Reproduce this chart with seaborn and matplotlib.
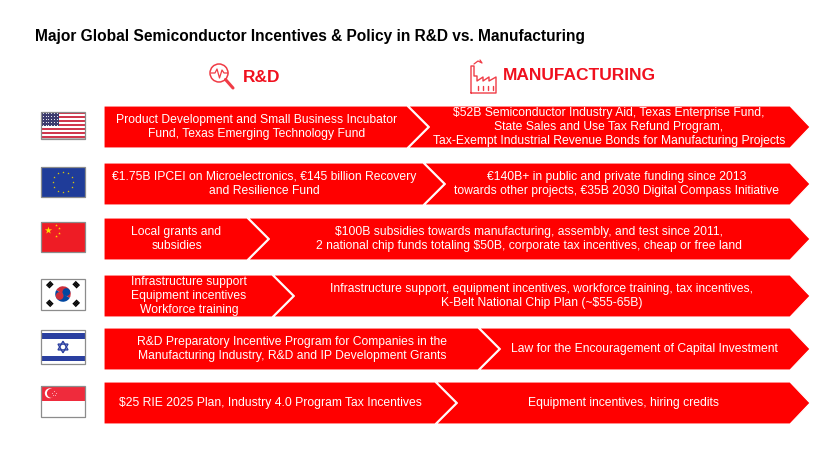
import numpy as np
import matplotlib
matplotlib.use("Agg")
import matplotlib.pyplot as plt
import seaborn as sns
from matplotlib.patches import Polygon, Rectangle, Circle, Wedge

# ---------------- data ----------------
title = "Major Global Semiconductor Incentives & Policy in R&D vs. Manufacturing"
col_headers = ["R&D", "MANUFACTURING"]
countries = ["United States", "European Union", "China", "South Korea", "Israel", "Singapore"]
rd_text = [
    "Product Development and Small Business Incubator\nFund, Texas Emerging Technology Fund",
    "€1.75B IPCEI on Microelectronics, €145 billion Recovery\nand Resilience Fund",
    "Local grants and\nsubsidies",
    "Infrastructure support\nEquipment incentives\nWorkforce training",
    "R&D Preparatory Incentive Program for Companies in the\nManufacturing Industry, R&D and IP Development Grants",
    "$25 RIE 2025 Plan, Industry 4.0 Program Tax Incentives",
]
mfg_text = [
    "$52B Semiconductor Industry Aid, Texas Enterprise Fund,\nState Sales and Use Tax Refund Program,\nTax-Exempt Industrial Revenue Bonds for Manufacturing Projects",
    "€140B+ in public and private funding since 2013\ntowards other projects, €35B 2030 Digital Compass Initiative",
    "$100B subsidies towards manufacturing, assembly, and test since 2011,\n2 national chip funds totaling $50B, corporate tax incentives, cheap or free land",
    "Infrastructure support, equipment incentives, workforce training, tax incentives,\nK-Belt National Chip Plan (~$55-65B)",
    "Law for the Encouragement of Capital Investment",
    "Equipment incentives, hiring credits",
]

# ---------------- layout (pixel coordinates) ----------------
row_top = [106, 163, 218, 275, 328, 382]
row_h = 42
split_x = [407, 423, 247, 272, 478, 435]
bar_x0, bar_body_end, bar_tip = 104, 790, 810
notch = 21
RED = "#ff0000"

sns.set_theme(style="white")
plt.rcParams["font.family"] = ["Liberation Sans", "DejaVu Sans"]

W, H = 831, 461
fig = plt.figure(figsize=(W / 100, H / 100), dpi=100)
ax = fig.add_axes([0, 0, 1, 1])
ax.set_xlim(0, W)
ax.set_ylim(H, 0)
ax.axis("off")

# title
ax.text(35, 37, title, fontsize=11.2, fontweight="bold", color="black", va="center", ha="left")

# headers
ax.text(243, 77, col_headers[0], fontsize=12.5, fontweight="bold", color="#f0101e", va="center", ha="left")
ax.text(503, 75, col_headers[1], fontsize=12.5, fontweight="bold", color="#f0101e", va="center", ha="left")

# R&D icon: magnifier with pulse
icol = "#f03c46"
ax.add_patch(Circle((219, 73), 9, fill=False, ec=icol, lw=1.1))
ax.plot([225.5, 233], [79.5, 88], color=icol, lw=2.2, solid_capstyle="round")
ax.plot([211, 215, 217, 219.5, 222, 224, 228], [73, 73, 69, 78, 70, 73, 73], color=icol, lw=0.9)

# Manufacturing icon: factory outline
fx = [471, 471, 474, 474, 477, 477, 483, 483, 489, 489, 496, 496, 471]
fy = [93, 66, 66, 76, 76, 81, 77, 81, 77, 81, 77, 93, 93]
ax.plot(fx, fy, color=icol, lw=1.0)
ax.plot([474, 478, 482, 480], [64, 61, 63, 60], color=icol, lw=0.9)
for xx in [478, 483, 488, 493]:
    ax.plot([xx, xx], [86, 90], color=icol, lw=1.0)


# ---------------- flags ----------------
def frame(x, y, w, h):
    ax.add_patch(Rectangle((x + 1, y + 1), w, h, fc="#bdbdbd", ec="none", zorder=2))
    ax.add_patch(Rectangle((x, y), w, h, fill=False, ec="#8c8c8c", lw=0.9, zorder=6))


def flag_us(x, y, w, h):
    frame(x, y, w, h)
    sh = h / 13
    for i in range(13):
        ax.add_patch(Rectangle((x, y + i * sh), w, sh, fc="#d0384e" if i % 2 == 0 else "white", ec="none", zorder=3))
    cw, ch = w * 0.4, sh * 7
    ax.add_patch(Rectangle((x, y), cw, ch, fc="#3c3b6e", ec="none", zorder=4))
    xs, ys = np.meshgrid(np.linspace(x + 2, x + cw - 2, 6), np.linspace(y + 1.5, y + ch - 1.5, 5))
    ax.scatter(xs.ravel(), ys.ravel(), s=0.6, c="white", zorder=5, linewidths=0)


def flag_eu(x, y, w, h):
    frame(x, y, w, h)
    ax.add_patch(Rectangle((x, y), w, h, fc="#1f3c99", ec="none", zorder=3))
    cx, cy, r = x + w / 2, y + h / 2, h / 3
    a = np.linspace(0, 2 * np.pi, 13)[:-1]
    ax.scatter(cx + r * np.cos(a), cy + r * np.sin(a), s=3, marker="*", c="#e8d000", zorder=5, linewidths=0)


def flag_cn(x, y, w, h):
    frame(x, y, w, h)
    ax.add_patch(Rectangle((x, y), w, h, fc="#ee1c25", ec="none", zorder=3))
    ax.scatter([x + w * 0.17], [y + h * 0.27], s=30, marker="*", c="#ffde00", zorder=5, linewidths=0)
    ax.scatter([x + w * 0.33, x + w * 0.4, x + w * 0.4, x + w * 0.33],
               [y + h * 0.1, y + h * 0.2, y + h * 0.37, y + h * 0.47], s=4, marker="*", c="#ffde00", zorder=5, linewidths=0)


def flag_kr(x, y, w, h):
    frame(x, y, w, h)
    ax.add_patch(Rectangle((x, y), w, h, fc="white", ec="none", zorder=3))
    cx, cy, r = x + w / 2, y + h / 2, h * 0.25
    ax.add_patch(Wedge((cx, cy), r, 180 + 30, 30, fc="#cd2e3a", ec="none", zorder=4))
    ax.add_patch(Wedge((cx, cy), r, 30, 210, fc="#0047a0", ec="none", zorder=4))
    ox, oy = r / 2 * np.cos(np.radians(30)), r / 2 * np.sin(np.radians(30))
    ax.add_patch(Circle((cx - ox, cy + oy), r / 2, fc="#cd2e3a", ec="none", zorder=5))
    ax.add_patch(Circle((cx + ox, cy - oy), r / 2, fc="#0047a0", ec="none", zorder=5))
    for sx, sy in [(-1, -1), (1, -1), (-1, 1), (1, 1)]:
        px, py = cx + sx * w * 0.3, cy + sy * h * 0.3
        d = np.array([1, -sx * sy]) / np.sqrt(2)
        n = np.array([d[1], -d[0]])
        for k in (-1, 0, 1):
            p0 = np.array([px, py]) + n * k * 1.6 - d * 3
            p1 = np.array([px, py]) + n * k * 1.6 + d * 3
            ax.plot([p0[0], p1[0]], [p0[1], p1[1]], color="black", lw=1.2, zorder=5, solid_capstyle="butt")


def flag_il(x, y, w, h):
    frame(x, y, w, h)
    ax.add_patch(Rectangle((x, y), w, h, fc="white", ec="none", zorder=3))
    ax.add_patch(Rectangle((x, y + h * 0.1), w, h * 0.15, fc="#2a3fa0", ec="none", zorder=4))
    ax.add_patch(Rectangle((x, y + h * 0.75), w, h * 0.15, fc="#2a3fa0", ec="none", zorder=4))
    cx, cy, r = x + w / 2, y + h / 2, h * 0.17
    for off in (90, 270):
        a = np.radians(np.array([0, 120, 240]) + off)
        ax.add_patch(Polygon(np.c_[cx + r * np.cos(a), cy + r * np.sin(a)], closed=True, fill=False,
                             ec="#2a3fa0", lw=1.0, zorder=5))


def flag_sg(x, y, w, h):
    frame(x, y, w, h)
    ax.add_patch(Rectangle((x, y), w, h, fc="white", ec="none", zorder=3))
    ax.add_patch(Rectangle((x, y), w, h / 2, fc="#ef2b3c", ec="none", zorder=4))
    ax.add_patch(Circle((x + w * 0.2, y + h * 0.25), h * 0.16, fc="white", ec="none", zorder=5))
    ax.add_patch(Circle((x + w * 0.24, y + h * 0.25), h * 0.15, fc="#ef2b3c", ec="none", zorder=5))
    a = np.radians(np.arange(5) * 72 - 90)
    ax.scatter(x + w * 0.3 + 2.2 * np.cos(a), y + h * 0.25 + 2.2 * np.sin(a), s=1.2, marker="*", c="white",
               zorder=6, linewidths=0)


flag_funcs = [flag_us, flag_eu, flag_cn, flag_kr, flag_il, flag_sg]
flag_h = [27, 30, 30, 31, 34, 31]

# ---------------- bars ----------------
for i in range(len(countries)):
    t = row_top[i]
    b = t + row_h
    m = (t + b) / 2
    s = split_x[i]
    left = [(bar_x0, t), (s, t), (s + notch, m), (s, b), (bar_x0, b)]
    right = [(s + 1.5, t), (bar_body_end, t), (bar_tip, m), (bar_body_end, b), (s + 1.5, b), (s + notch + 1.5, m)]
    ax.add_patch(Polygon(left, closed=True, fc=RED, ec="white", lw=0.8, zorder=3))
    ax.add_patch(Polygon(right, closed=True, fc=RED, ec="white", lw=0.8, zorder=3))
    ax.text((bar_x0 + s) / 2 + 1, m, rd_text[i], fontsize=8.7, color="white", ha="center", va="center",
            linespacing=1.2, zorder=5)
    ax.text((s + notch + bar_body_end) / 2, m, mfg_text[i], fontsize=8.7, color="white", ha="center",
            va="center", linespacing=1.2, zorder=5)
    fh = flag_h[i]
    flag_funcs[i](41, m - fh / 2 - 2, 44, fh)

fig.savefig("out.png", dpi=100)
